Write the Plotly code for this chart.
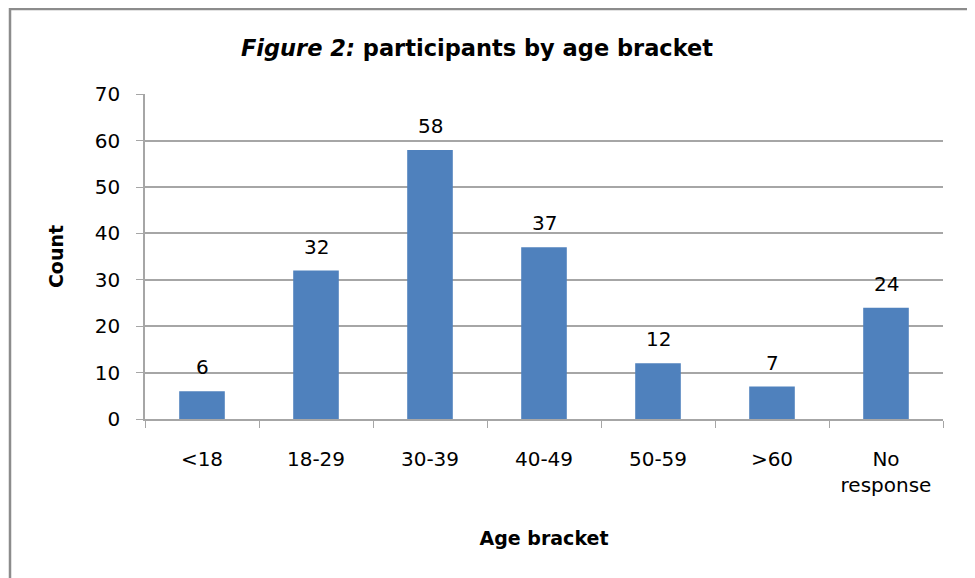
import plotly.graph_objects as go

# chart data
age_brackets = ["<18", "18-29", "30-39", "40-49", "50-59", ">60", "No<br>response"]
counts = [6, 32, 58, 37, 12, 7, 24]
y_ticks = [0, 10, 20, 30, 40, 50, 60, 70]

font_family = "'DejaVu Sans', sans-serif"
grid_col = "#a6a6a6"

# page body has an 8px margin, so the figure is 8px smaller than the window
fig = go.Figure()
fig.add_trace(go.Bar(
    x=age_brackets,
    y=counts,
    marker=dict(color="#4f81bd", line=dict(width=0)),
    cliponaxis=False,
))

# value labels above the bars
for cat, val in zip(age_brackets, counts):
    fig.add_annotation(
        x=cat, y=val, text=str(val), showarrow=False,
        yanchor="middle", yshift=24,
        font=dict(size=20, color="#000000", family=font_family),
    )

fig.update_layout(
    width=967,
    height=570,
    margin=dict(l=137, r=32, t=86, b=159),
    paper_bgcolor="white",
    plot_bgcolor="white",
    showlegend=False,
    bargap=0.6,
    font=dict(family=font_family, color="#000000"),
    title=dict(
        text="<b><i>Figure 2:</i> participants by age bracket</b>",
        x=469 / 967,
        xanchor="center",
        y=1 - 40 / 570,
        yanchor="middle",
        font=dict(size=22.5, family=font_family),
    ),
)

fig.update_xaxes(
    showline=True,
    linecolor=grid_col,
    linewidth=1.5,
    ticks="outside",
    tickson="boundaries",
    ticklen=7,
    tickcolor=grid_col,
    tickfont=dict(size=20),
    ticklabelstandoff=21,
    title=dict(text="<b>Age bracket</b>", font=dict(size=19), standoff=36),
)

fig.update_yaxes(
    range=[0, 70.05],
    tickvals=y_ticks,
    showgrid=True,
    gridcolor=grid_col,
    gridwidth=1.5,
    showline=True,
    linecolor=grid_col,
    linewidth=1.5,
    ticks="outside",
    ticklen=7,
    tickcolor=grid_col,
    tickfont=dict(size=20),
    ticklabelstandoff=12,
    title=dict(text="<b>Count</b>", font=dict(size=19), standoff=26),
    zeroline=False,
)

# outer chart border
fig.add_shape(
    type="rect", xref="paper", yref="paper",
    x0=(10 - 145) / 798, x1=(971 - 145) / 798,
    y0=-0.6, y1=(419 - 9) / 325,
    line=dict(color="#8c8c8c", width=2.5),
    layer="below",
)

fig.write_html("out.html")
